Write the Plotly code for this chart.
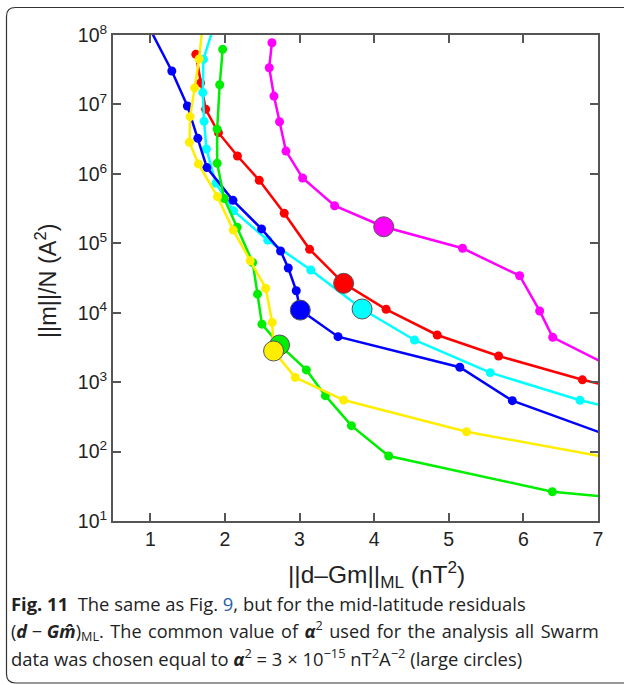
import plotly.graph_objects as go

# ---- data ----
blue_x = [0.862, 1.288, 1.497, 1.637, 1.758, 2.107, 2.491, 2.746, 2.849, 2.956, 3.010, 3.516, 5.148, 5.852, 7.71]
blue_y = [2.3e8, 3.03e7, 9.5e6, 3.25e6, 1.23e6, 4.16e5, 1.61e5, 7.74e4, 4.41e4, 2.07e4, 1.09e4, 4.52e3, 1.64e3, 541, 102]

cyan_x = [1.921, 1.712, 1.704, 1.721, 1.752, 1.879, 2.115, 2.574, 3.151, 3.838, 4.540, 5.556, 6.759, 7.71]
cyan_y = [2.3e8, 4.47e7, 1.48e7, 5.71e6, 2.28e6, 7.31e5, 2.94e5, 1.11e5, 4.12e4, 1.13e4, 4.05e3, 1.37e3, 548, 319]

red_x = [1.610, 1.674, 1.742, 1.913, 2.168, 2.460, 2.795, 3.135, 3.591, 4.160, 4.845, 5.668, 6.791, 7.71]
red_y = [5.27e7, 2.04e7, 8.51e6, 3.92e6, 1.81e6, 8.07e5, 2.71e5, 8.18e4, 2.65e4, 1.12e4, 4.78e3, 2.38e3, 1.08e3, 630]

magenta_x = [2.630, 2.594, 2.657, 2.732, 2.818, 3.041, 3.470, 4.128, 5.185, 5.950, 6.218, 6.393, 7.71]
magenta_y = [7.74e7, 3.38e7, 1.32e7, 5.64e6, 2.13e6, 8.71e5, 3.47e5, 1.73e5, 8.47e4, 3.41e4, 1.06e4, 4.43e3, 849]

green_x = [1.970, 1.930, 1.896, 1.896, 1.990, 2.164, 2.372, 2.437, 2.496, 2.732, 3.091, 3.346, 3.695, 4.195, 6.389, 7.71]
green_y = [6.22e7, 1.92e7, 4.40e6, 1.42e6, 4.42e5, 1.70e5, 5.28e4, 1.85e4, 6.84e3, 3.43e3, 1.50e3, 638, 236, 86.3, 26.4, 19.4]

yellow_x = [1.721, 1.654, 1.594, 1.534, 1.524, 1.645, 1.900, 2.111, 2.339, 2.547, 2.634, 2.652, 2.943, 3.591, 5.238, 7.71]
yellow_y = [2.3e8, 4.51e7, 1.73e7, 6.66e6, 2.85e6, 1.39e6, 4.69e5, 1.55e5, 5.61e4, 2.25e4, 7.23e3, 2.81e3, 1.17e3, 553, 193, 63.1]

# large circles: common alpha^2 choice
big_x = [4.128, 3.591, 3.838, 3.010, 2.732, 2.652]
big_y = [1.73e5, 2.65e4, 1.13e4, 1.09e4, 3.43e3, 2.81e3]
big_colors = ["#ff00ff", "#ff0000", "#00ffff", "#0000ff", "#00ee00", "#ffee00"]

x_ticks = [1, 2, 3, 4, 5, 6, 7]
y_ticks = [1e1, 1e2, 1e3, 1e4, 1e5, 1e6, 1e7, 1e8]
y_ticktext = ["10<sup>%d</sup>" % k for k in range(1, 9)]

series = [
    (magenta_x, magenta_y, "#ff00ff"),
    (red_x, red_y, "#ff0000"),
    (cyan_x, cyan_y, "#00ffff"),
    (blue_x, blue_y, "#0000ff"),
    (green_x, green_y, "#00ee00"),
    (yellow_x, yellow_y, "#ffee00"),
]

fig = go.Figure()
for xs, ys, c in series:
    fig.add_trace(go.Scatter(x=xs, y=ys, mode="lines+markers",
                             line=dict(color=c, width=2.5),
                             marker=dict(color=c, size=9),
                             showlegend=False))
fig.add_trace(go.Scatter(x=big_x, y=big_y, mode="markers",
                         marker=dict(color=big_colors, size=20,
                                     line=dict(color="#555555", width=1)),
                         showlegend=False))

W, H = 485.0, 486.0
L, T = 113.0, 35.0
def px(x): return (x - L) / W
def py(y): return (T + H - y) / H

axis_font = dict(family="Liberation Sans, Arial, sans-serif", size=19.5, color="#222222")
fig.update_layout(
    width=624, height=684,
    margin=dict(l=113, r=26, t=35, b=163),
    paper_bgcolor="white", plot_bgcolor="white",
    font=axis_font,
    xaxis=dict(range=[0.5, 7], tickvals=x_ticks, ticks="inside", ticklen=8,
               tickwidth=1.5, tickcolor="#555555", mirror="ticks",
               showline=True, linecolor="#555555", linewidth=2,
               showgrid=False, zeroline=False, tickfont=axis_font),
    yaxis=dict(type="log", range=[1, 8], tickvals=y_ticks, ticktext=y_ticktext,
               ticks="inside", ticklen=8, tickwidth=1.5, tickcolor="#555555",
               mirror="ticks", showline=True, linecolor="#555555", linewidth=2,
               showgrid=False, zeroline=False, tickfont=axis_font),
)

# outer rounded frame
path = ("M %f,%f L %f,%f Q %f,%f %f,%f L %f,%f Q %f,%f %f,%f L %f,%f" % (
    px(630), py(7.5), px(15.5), py(7.5), px(6.5), py(7.5), px(6.5), py(16.5),
    px(6.5), py(674), px(6.5), py(683), px(15.5), py(683), px(630), py(683)))
fig.add_shape(type="path", path=path, xref="paper", yref="paper",
              line=dict(color="#333333", width=1.2), layer="above")

fig.add_annotation(x=px(376), y=py(574), xref="paper", yref="paper",
                   text="||d\u2013Gm||<sub>ML</sub> (nT<sup>2</sup>)",
                   showarrow=False, xanchor="center", yanchor="middle",
                   font=dict(family="Liberation Sans, Arial, sans-serif", size=24.5, color="#222222"))
fig.add_annotation(x=px(46), y=py(281), xref="paper", yref="paper",
                   text="||m||/N (A<sup>2</sup>)", textangle=-90,
                   showarrow=False, xanchor="center", yanchor="middle",
                   font=dict(family="Liberation Sans, Arial, sans-serif", size=23.5, color="#222222"))

hs = " \u200a"
line2 = ("(<b><i>d</i></b> \u2212 <b><i>Gm\u0302</i></b>)<sub>ML</sub>." + hs + "The" + hs + "common" + hs
         + "value" + hs + "of" + hs + "<b><i>\u03b1</i></b><sup>2</sup>" + hs + "used" + hs + "for" + hs
         + "the" + hs + "analysis" + hs + "all" + hs + "Swarm")
captions = [
    ("<b>Fig. 11</b>  The same as Fig. <span style='color:#2a5db0'>9</span>, but for the mid-latitude residuals", 18.4, 603),
    (line2, 18.1, 630),
    ("data was chosen equal to <b><i>\u03b1</i></b><sup>2</sup> = 3 \u00d7 10<sup>\u221215</sup> nT<sup>2</sup>A<sup>\u22122</sup> (large circles)", 18.4, 657),
]
for t, s, yy in captions:
    fig.add_annotation(x=px(9), y=py(yy), xref="paper", yref="paper",
                       text=t, showarrow=False, xanchor="left", yanchor="middle",
                       align="left",
                       font=dict(family="Open Sans, sans-serif", size=s, color="#222222"))

fig.write_html("out.html")
